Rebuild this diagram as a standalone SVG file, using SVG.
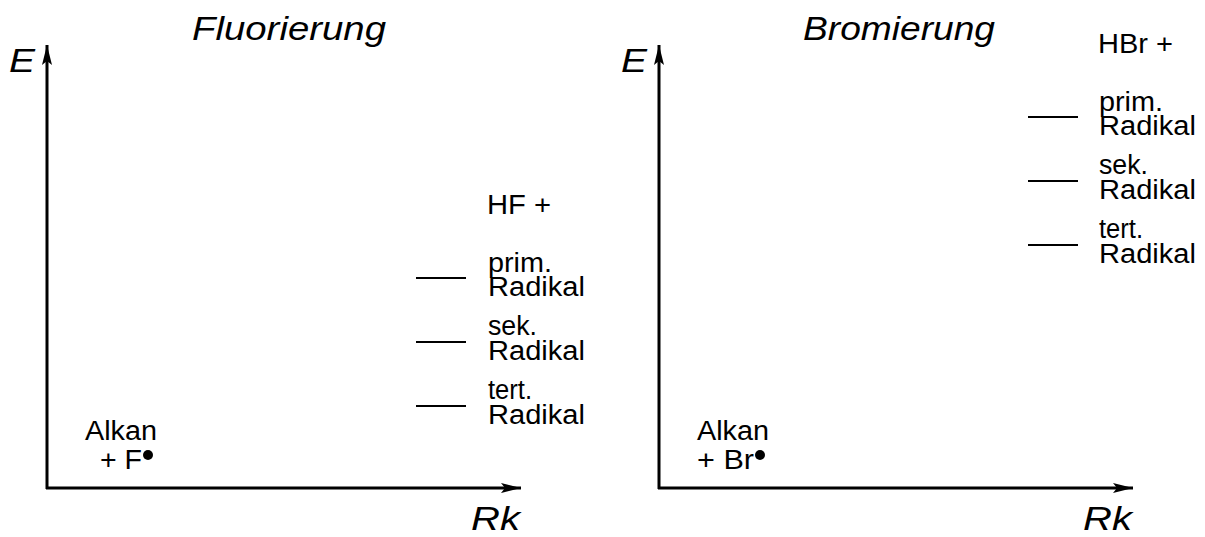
<svg xmlns="http://www.w3.org/2000/svg" width="1205" height="537" viewBox="0 0 1205 537">
  <defs>
    <marker id="arrow" markerUnits="userSpaceOnUse" markerWidth="22" markerHeight="12" refX="20" refY="5" orient="auto">
      <path d="M0,0 L20,5 L0,10 L4,5 Z" fill="#000"/>
    </marker>
  </defs>
  <style>
    text { font-family: "Liberation Sans", Arial, sans-serif; fill: #000; }
    .title { font-size: 33px; font-style: italic; }
    .axis-label { font-size: 34px; font-style: italic; }
    .label { font-size: 27px; }
    .axis { stroke: #000; stroke-width: 3; fill: none; marker-end: url(#arrow); }
    .level { stroke: #000; stroke-width: 2; }
  </style>
  <rect width="1205" height="537" fill="#fff"/>

  <!-- Fluorierung -->
  <g id="fluorierung">
    <text class="title" x="192" y="40" textLength="194" lengthAdjust="spacingAndGlyphs">Fluorierung</text>
    <text class="axis-label" x="9" y="72" textLength="26" lengthAdjust="spacingAndGlyphs">E</text>
    <text class="axis-label" x="471" y="530" textLength="49" lengthAdjust="spacingAndGlyphs">Rk</text>
    <g id="f-educt">
      <text class="label" x="85" y="440" textLength="72" lengthAdjust="spacingAndGlyphs">Alkan</text>
      <text class="label" x="100" y="469" textLength="42" lengthAdjust="spacingAndGlyphs">+ F</text>
      <circle cx="148" cy="455" r="5" fill="#000"/>
    </g>
    <g id="f-products">
      <text class="label" x="487" y="214" textLength="64" lengthAdjust="spacingAndGlyphs">HF +</text>
      <text class="label" x="488" y="272" textLength="64" lengthAdjust="spacingAndGlyphs">prim.</text>
      <text class="label" x="488" y="296" textLength="97" lengthAdjust="spacingAndGlyphs">Radikal</text>
      <text class="label" x="488" y="335" textLength="49" lengthAdjust="spacingAndGlyphs">sek.</text>
      <text class="label" x="488" y="360" textLength="97" lengthAdjust="spacingAndGlyphs">Radikal</text>
      <text class="label" x="488" y="399" textLength="44" lengthAdjust="spacingAndGlyphs">tert.</text>
      <text class="label" x="488" y="424" textLength="97" lengthAdjust="spacingAndGlyphs">Radikal</text>
    </g>
  </g>

  <!-- Bromierung -->
  <g id="bromierung">
    <text class="title" x="803" y="40" textLength="192" lengthAdjust="spacingAndGlyphs">Bromierung</text>
    <text class="axis-label" x="621" y="72" textLength="26" lengthAdjust="spacingAndGlyphs">E</text>
    <text class="axis-label" x="1083" y="530" textLength="49" lengthAdjust="spacingAndGlyphs">Rk</text>
    <g id="b-educt">
      <text class="label" x="697" y="440" textLength="72" lengthAdjust="spacingAndGlyphs">Alkan</text>
      <text class="label" x="697" y="469" textLength="57" lengthAdjust="spacingAndGlyphs">+ Br</text>
      <circle cx="760" cy="455" r="5" fill="#000"/>
    </g>
    <g id="b-products">
      <text class="label" x="1098" y="53" textLength="75" lengthAdjust="spacingAndGlyphs">HBr +</text>
      <text class="label" x="1099" y="111" textLength="64" lengthAdjust="spacingAndGlyphs">prim.</text>
      <text class="label" x="1099" y="135" textLength="97" lengthAdjust="spacingAndGlyphs">Radikal</text>
      <text class="label" x="1099" y="174" textLength="49" lengthAdjust="spacingAndGlyphs">sek.</text>
      <text class="label" x="1099" y="199" textLength="97" lengthAdjust="spacingAndGlyphs">Radikal</text>
      <text class="label" x="1099" y="238" textLength="44" lengthAdjust="spacingAndGlyphs">tert.</text>
      <text class="label" x="1099" y="263" textLength="97" lengthAdjust="spacingAndGlyphs">Radikal</text>
    </g>
  </g>

  <!-- axes and energy levels -->
  <g id="connectors">
    <line class="axis" x1="47" y1="489" x2="47" y2="45"/>
    <line class="axis" x1="46" y1="488" x2="521" y2="488"/>
    <line class="level" x1="416" y1="278" x2="466" y2="278"/>
    <line class="level" x1="416" y1="342" x2="466" y2="342"/>
    <line class="level" x1="416" y1="406" x2="466" y2="406"/>

    <line class="axis" x1="659" y1="489" x2="659" y2="45"/>
    <line class="axis" x1="658" y1="488" x2="1133" y2="488"/>
    <line class="level" x1="1028" y1="117" x2="1078" y2="117"/>
    <line class="level" x1="1028" y1="181" x2="1078" y2="181"/>
    <line class="level" x1="1028" y1="245" x2="1078" y2="245"/>
  </g>
</svg>
